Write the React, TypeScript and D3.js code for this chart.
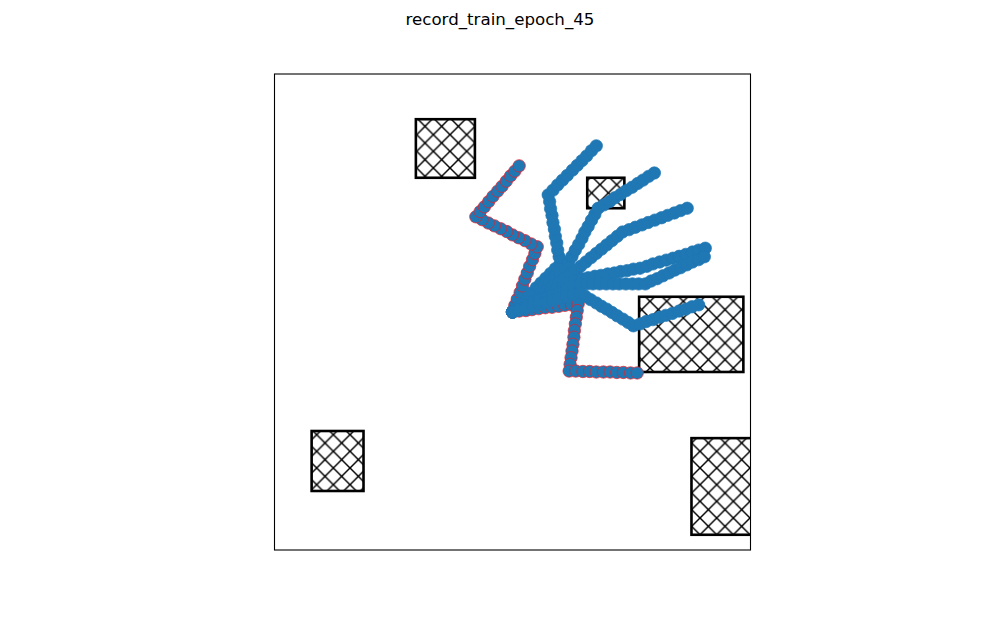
import * as d3 from 'd3'

// trajectories, data units (axis 0..10 both ways), start at (5,5)
type Pt = [number, number]

const trajRed1: Pt[] = [
  [5.00, 5.00], [5.05, 5.14], [5.10, 5.27], [5.16, 5.41], [5.21, 5.55], [5.26, 5.69], [5.31, 5.82], [5.36, 5.96], [5.42, 6.10], [5.47, 6.23], [5.52, 6.37],
  [5.39, 6.43], [5.26, 6.50], [5.13, 6.56], [5.00, 6.62], [4.88, 6.69], [4.75, 6.75], [4.62, 6.81], [4.49, 6.87], [4.36, 6.94], [4.23, 7.00],
  [4.32, 7.11], [4.41, 7.21], [4.50, 7.32], [4.59, 7.43], [4.69, 7.54], [4.78, 7.64], [4.87, 7.75], [4.96, 7.86], [5.05, 7.96], [5.14, 8.07],
]
const trajRed2: Pt[] = [
  [5.00, 5.00], [5.14, 5.02], [5.28, 5.03], [5.41, 5.05], [5.55, 5.07], [5.69, 5.09], [5.83, 5.10], [5.97, 5.12], [6.10, 5.14], [6.24, 5.15], [6.38, 5.17],
  [6.36, 5.03], [6.34, 4.89], [6.32, 4.75], [6.30, 4.61], [6.29, 4.47], [6.27, 4.32], [6.25, 4.18], [6.23, 4.04], [6.21, 3.90], [6.19, 3.76],
  [6.33, 3.76], [6.48, 3.75], [6.62, 3.75], [6.76, 3.74], [6.91, 3.74], [7.05, 3.74], [7.19, 3.73], [7.33, 3.73], [7.48, 3.72], [7.62, 3.72],
]
const trajA: Pt[] = [
  [5.00, 5.00], [5.10, 5.10], [5.20, 5.20], [5.30, 5.30], [5.40, 5.40], [5.50, 5.51], [5.60, 5.61], [5.70, 5.71], [5.80, 5.81], [5.90, 5.91], [6.00, 6.01],
  [5.98, 6.16], [5.95, 6.30], [5.93, 6.45], [5.90, 6.59], [5.88, 6.74], [5.85, 6.88], [5.83, 7.03], [5.80, 7.17], [5.78, 7.32], [5.75, 7.46],
  [5.85, 7.56], [5.95, 7.67], [6.05, 7.77], [6.15, 7.87], [6.26, 7.98], [6.36, 8.08], [6.46, 8.18], [6.56, 8.28], [6.66, 8.39], [6.76, 8.49],
]
const trajB: Pt[] = [
  [5.00, 5.00], [5.11, 5.09], [5.22, 5.18], [5.33, 5.28], [5.44, 5.37], [5.56, 5.46], [5.67, 5.55], [5.78, 5.64], [5.89, 5.74], [6.00, 5.83], [6.11, 5.92],
  [6.18, 6.05], [6.25, 6.17], [6.32, 6.30], [6.39, 6.42], [6.46, 6.55], [6.52, 6.68], [6.59, 6.80], [6.66, 6.93], [6.73, 7.05], [6.80, 7.18],
  [6.92, 7.25], [7.04, 7.32], [7.15, 7.40], [7.27, 7.47], [7.39, 7.55], [7.51, 7.62], [7.63, 7.70], [7.74, 7.77], [7.86, 7.85], [7.98, 7.92],
]
const trajC: Pt[] = [
  [5.00, 5.00], [5.12, 5.08], [5.24, 5.16], [5.36, 5.23], [5.48, 5.31], [5.61, 5.39], [5.73, 5.47], [5.85, 5.55], [5.97, 5.62], [6.09, 5.70], [6.21, 5.78],
  [6.32, 5.87], [6.43, 5.96], [6.54, 6.05], [6.65, 6.14], [6.76, 6.23], [6.87, 6.32], [6.98, 6.41], [7.09, 6.50], [7.20, 6.59], [7.31, 6.68],
  [7.45, 6.73], [7.58, 6.78], [7.72, 6.83], [7.85, 6.88], [7.99, 6.93], [8.13, 6.98], [8.26, 7.03], [8.40, 7.08], [8.53, 7.13], [8.67, 7.18],
]
const trajD1: Pt[] = [
  [5.00, 5.00], [5.13, 5.07], [5.26, 5.13], [5.40, 5.20], [5.53, 5.27], [5.66, 5.34], [5.79, 5.40], [5.92, 5.47], [6.06, 5.54], [6.19, 5.60], [6.32, 5.67],
  [6.46, 5.70], [6.59, 5.72], [6.73, 5.75], [6.86, 5.77], [7.00, 5.80], [7.14, 5.82], [7.27, 5.85], [7.41, 5.87], [7.54, 5.90], [7.68, 5.92],
  [7.82, 5.96], [7.95, 6.01], [8.09, 6.05], [8.23, 6.09], [8.37, 6.13], [8.50, 6.17], [8.64, 6.21], [8.78, 6.26], [8.91, 6.30], [9.05, 6.34],
]
const trajD2: Pt[] = [
  [5.00, 5.00], [5.14, 5.06], [5.28, 5.12], [5.43, 5.18], [5.57, 5.24], [5.71, 5.30], [5.85, 5.35], [5.99, 5.41], [6.14, 5.47], [6.28, 5.53], [6.42, 5.59],
  [6.56, 5.59], [6.69, 5.59], [6.83, 5.59], [6.97, 5.59], [7.11, 5.59], [7.24, 5.59], [7.38, 5.59], [7.52, 5.59], [7.65, 5.59], [7.79, 5.59],
  [7.91, 5.65], [8.04, 5.70], [8.16, 5.76], [8.29, 5.82], [8.41, 5.88], [8.53, 5.93], [8.66, 5.99], [8.78, 6.05], [8.91, 6.10], [9.03, 6.16],
]
const trajE: Pt[] = [
  [5.00, 5.00], [5.14, 5.04], [5.28, 5.08], [5.43, 5.12], [5.57, 5.16], [5.71, 5.20], [5.85, 5.24], [5.99, 5.28], [6.14, 5.32], [6.28, 5.36], [6.42, 5.40],
  [6.53, 5.33], [6.64, 5.26], [6.76, 5.19], [6.87, 5.12], [6.98, 5.06], [7.09, 4.99], [7.20, 4.92], [7.32, 4.85], [7.43, 4.78], [7.54, 4.71],
  [7.68, 4.75], [7.81, 4.80], [7.95, 4.84], [8.09, 4.89], [8.22, 4.93], [8.36, 4.97], [8.50, 5.02], [8.64, 5.06], [8.77, 5.11], [8.91, 5.15],
]

const redTrajs = [trajRed1, trajRed2]
const blueTrajs = [trajA, trajB, trajC, trajD1, trajD2, trajE]

// obstacles: [x0, y0, x1, y1]
const obstacles: [number, number, number, number][] = [
  [2.97, 7.82, 4.21, 9.05],
  [6.57, 7.18, 7.35, 7.82],
  [7.66, 3.74, 9.85, 5.32],
  [0.78, 1.24, 1.87, 2.50],
  [8.76, 0.32, 10.5, 2.35],
]

const title = 'record_train_epoch_45'

const W = 1000
const H = 618
const HATCH = 16.667

export default function App() {
  const x = d3.scaleLinear().domain([0, 10]).range([274.5, 750.5])
  const y = d3.scaleLinear().domain([0, 10]).range([550, 74])
  const blue = '#1f77b4'
  const r = 6.2

  return (
    <svg width={W} height={H} style={{ position: 'absolute', left: 0, top: 0, background: '#fff' }}>
      <defs>
        <clipPath id="axclip">
          <rect x={x(0)} y={y(10)} width={x(10) - x(0)} height={y(0) - y(10)} />
        </clipPath>
        <pattern id="hatch" patternUnits="userSpaceOnUse" x={0} y={H % HATCH} width={HATCH} height={HATCH}>
          <rect width={HATCH} height={HATCH} fill="#fff" />
          <line x1={-1} y1={-1} x2={HATCH + 1} y2={HATCH + 1} stroke="#000" strokeWidth={1.5} />
          <line x1={-1} y1={HATCH + 1} x2={HATCH + 1} y2={-1} stroke="#000" strokeWidth={1.5} />
        </pattern>
      </defs>

      <text x={W / 2} y={25} textAnchor="middle" fontFamily="DejaVu Sans" fontSize={16.67} fill="#000">
        {title}
      </text>

      <g clipPath="url(#axclip)">
        {obstacles.map((o, i) => (
          <rect
            key={i}
            x={x(o[0])}
            y={y(o[3])}
            width={x(o[2]) - x(o[0])}
            height={y(o[1]) - y(o[3])}
            fill="url(#hatch)"
            stroke="#000"
            strokeWidth={2.6}
          />
        ))}
        {redTrajs.map((t, i) => (
          <g key={'r' + i}>
            {t.map((p, j) => (
              <circle key={j} cx={x(p[0])} cy={y(p[1])} r={r} fill={blue} stroke="#e8202a" strokeWidth={0.7} />
            ))}
          </g>
        ))}
        {blueTrajs.map((t, i) => (
          <g key={'b' + i}>
            {t.map((p, j) => (
              <circle key={j} cx={x(p[0])} cy={y(p[1])} r={r} fill={blue} stroke={blue} strokeWidth={0.7} />
            ))}
          </g>
        ))}
      </g>

      <rect x={x(0)} y={y(10)} width={x(10) - x(0)} height={y(0) - y(10)} fill="none" stroke="#000" strokeWidth={1.1} />
    </svg>
  )
}
